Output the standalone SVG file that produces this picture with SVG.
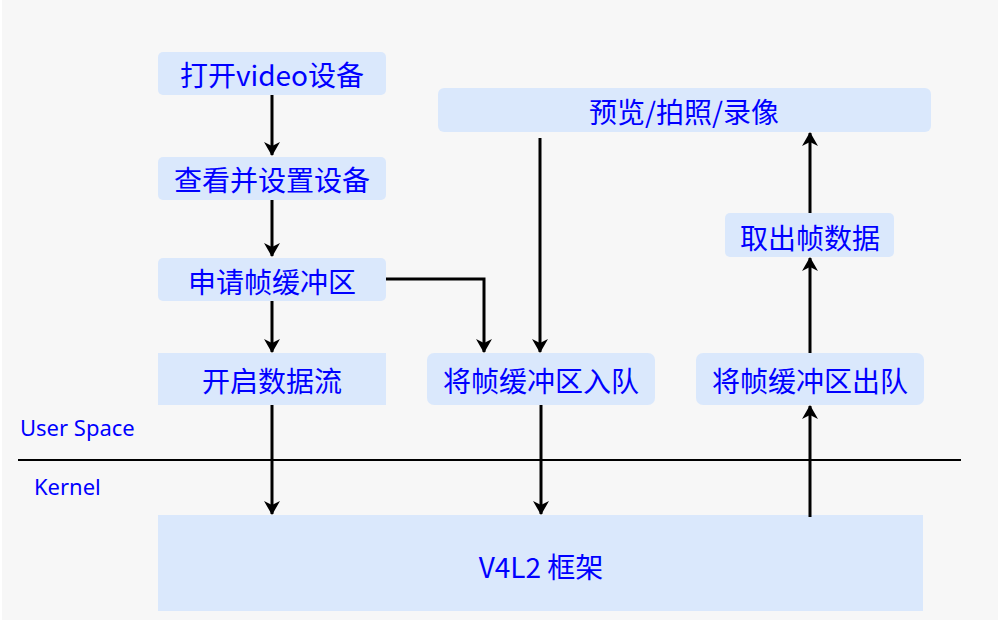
<svg xmlns="http://www.w3.org/2000/svg" width="998" height="620" viewBox="0 0 998 620">
<defs>
<style>
.n{fill:#dae8fc;stroke:none}
.t{font-family:"Noto Sans CJK SC","Noto Sans",sans-serif;font-size:28px;fill:#0000ff;text-anchor:middle;dominant-baseline:central}
.l{font-family:"Noto Sans","Liberation Sans",sans-serif;font-size:22px;fill:#0000ff}
.c{fill:none;stroke:#000;stroke-width:3}
</style>
<marker id="a" viewBox="0 0 14 18" refX="13" refY="9" markerWidth="14" markerHeight="18" markerUnits="userSpaceOnUse" orient="auto">
<path d="M0,1 L14,9 L0,17 L4,9 Z" fill="#000"/>
</marker>
</defs>
<rect x="2" y="0" width="996" height="620" fill="#f7f7f7"/>
<g id="n1"><rect class="n" x="158" y="52" width="228" height="43" rx="5"/><text class="t" x="272" y="74">打开video设备</text></g>
<g id="n2"><rect class="n" x="158" y="157" width="228" height="43" rx="5"/><text class="t" x="272" y="179">查看并设置设备</text></g>
<g id="n3"><rect class="n" x="158" y="258" width="228" height="43" rx="5"/><text class="t" x="272" y="281">申请帧缓冲区</text></g>
<g id="n4"><rect class="n" x="158" y="353" width="228" height="52"/><text class="t" x="272" y="380">开启数据流</text></g>
<g id="n5"><rect class="n" x="427" y="353" width="228" height="52" rx="7"/><text class="t" x="541" y="380">将帧缓冲区入队</text></g>
<g id="n6"><rect class="n" x="696" y="353" width="228" height="52" rx="7"/><text class="t" x="810" y="380">将帧缓冲区出队</text></g>
<g id="n7"><rect class="n" x="725" y="213" width="169" height="44" rx="5"/><text class="t" x="810" y="237">取出帧数据</text></g>
<g id="n8"><rect class="n" x="438" y="88" width="493" height="44" rx="6"/><text class="t" x="684" y="111">预览/拍照/录像</text></g>
<g id="n9"><rect class="n" x="158" y="515" width="765" height="96"/><text class="t" x="541" y="566">V4L2 框架</text></g>
<g id="labels">
<line x1="18" y1="460" x2="961" y2="460" stroke="#000" stroke-width="2"/>
<text class="l" x="20" y="436">User Space</text>
<text class="l" x="34" y="495">Kernel</text>
</g>
<g id="connectors">
<line class="c" x1="272" y1="95" x2="272" y2="155" marker-end="url(#a)"/>
<line class="c" x1="272" y1="200" x2="272" y2="256" marker-end="url(#a)"/>
<line class="c" x1="272" y1="301" x2="272" y2="352" marker-end="url(#a)"/>
<line class="c" x1="272" y1="405" x2="272" y2="514" marker-end="url(#a)"/>
<polyline class="c" points="386,279 484,279 484,352" marker-end="url(#a)"/>
<line class="c" x1="540" y1="138" x2="540" y2="352" marker-end="url(#a)"/>
<line class="c" x1="541" y1="405" x2="541" y2="514" marker-end="url(#a)"/>
<line class="c" x1="810" y1="517" x2="810" y2="406" marker-end="url(#a)"/>
<line class="c" x1="810" y1="353" x2="810" y2="258" marker-end="url(#a)"/>
<line class="c" x1="810" y1="213" x2="810" y2="133" marker-end="url(#a)"/>
</g>
</svg>
